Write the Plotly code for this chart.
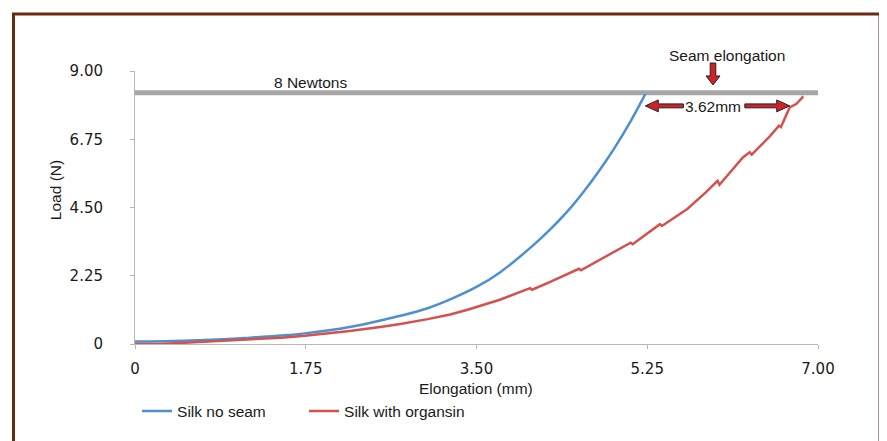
import plotly.graph_objects as go

# ---- data ----
blue_name = "Silk no seam"
blue_x = [0, 0.5, 1.0, 1.18, 1.5, 1.74, 2.2, 2.55, 2.72, 3.0, 3.23, 3.5, 3.74, 4.08, 4.25,
          4.42, 4.6, 4.77, 4.92, 5.07, 5.23]
blue_y = [0.08, 0.11, 0.17, 0.21, 0.28, 0.35, 0.56, 0.80, 0.93, 1.18, 1.47, 1.88, 2.36, 3.25, 3.76,
          4.33, 5.03, 5.77, 6.49, 7.29, 8.24]

red_name = "Silk with organsin"
red_x = [0, 0.25, 0.5, 1.0, 1.5, 1.74, 2.2, 2.55, 2.72, 3.0, 3.23, 3.40, 3.74, 4.05, 4.07, 4.25, 4.55,
         4.57, 4.77, 5.0, 5.08, 5.10, 5.28, 5.38, 5.40, 5.66, 5.85, 5.97, 5.99, 6.23, 6.30, 6.32,
         6.51, 6.60, 6.62, 6.71, 6.78, 6.82, 6.85]
red_y = [0, 0.0, 0.04, 0.12, 0.21, 0.27, 0.43, 0.58, 0.66, 0.82, 0.97, 1.12, 1.46, 1.84, 1.79, 2.04, 2.48,
         2.43, 2.78, 3.18, 3.34, 3.29, 3.72, 3.95, 3.89, 4.45, 5.00, 5.38, 5.25, 6.15, 6.32, 6.24,
         6.86, 7.20, 7.15, 7.80, 7.92, 8.06, 8.16]

limit_x = [0, 7.0]
limit_y = [8.28, 8.28]
limit_label = "8 Newtons"

x_ticks = [0, 1.75, 3.5, 5.25, 7.0]
x_tick_text = ["0", "1.75", "3.50", "5.25", "7.00"]
y_ticks = [0, 2.25, 4.5, 6.75, 9.0]
y_tick_text = ["0", "2.25", "4.50", "6.75", "9.00"]

seam_left = 5.23
seam_right = 6.71
seam_label = "3.62mm"
seam_title = "Seam elongation"

# ---- layout constants (page has an 8px body margin) ----
OFF = 8
W, H = 887 - OFF, 441 - OFF
ML, MT = 135 - OFF, 71 - OFF
PW, PH = 683, 275
MR, MB = W - ML - PW, H - MT - PH
XMAX, YMAX = 7.0, 9.0
px = 1.0 / PW
py = 1.0 / PH


def pgx(p):  # page pixel -> paper x
    return (p - OFF - ML) / PW


def pgy(p):  # page pixel -> paper y
    return (OFF + MT + PH - p) / PH


TXT = "Liberation Sans, Arial, sans-serif"
NUM = "DejaVu Sans, Verdana, sans-serif"

fig = go.Figure()
fig.add_trace(go.Scatter(x=limit_x, y=limit_y, mode="lines", showlegend=False,
                         line=dict(color="#a6a6a6", width=5), hoverinfo="skip"))
fig.add_trace(go.Scatter(x=blue_x, y=blue_y, mode="lines", name=blue_name,
                         line=dict(color="#4e8fd1", width=2.5, shape="spline", smoothing=1.0)))
fig.add_trace(go.Scatter(x=red_x, y=red_y, mode="lines", name=red_name,
                         line=dict(color="#d4514d", width=2.5)))


def poly(points):
    return "M " + " L ".join(f"{a:.5f},{b:.5f}" for a, b in points) + " Z"


def harrow(tip_x, tail_x, yv, direction):
    tx, ux, y0 = tip_x / XMAX, tail_x / XMAX, yv / YMAX
    hl, hw, sw = 13 * px, 6 * py, 2.0 * py
    d = direction
    base = tx - d * hl
    pts = [(tx, y0), (base, y0 + hw), (base, y0 + sw), (ux, y0 + sw),
           (ux, y0 - sw), (base, y0 - sw), (base, y0 - hw)]
    return poly(pts)


def varrow(x0, ty, uy):
    hl, hw, sw = 9 * py, 7 * px, 2.8 * px
    base = ty + hl
    pts = [(x0, ty), (x0 + hw, base), (x0 + sw, base), (x0 + sw, uy),
           (x0 - sw, uy), (x0 - sw, base), (x0 - hw, base)]
    return poly(pts)


arrow_style = dict(type="path", xref="paper", yref="paper", fillcolor="#d0202a",
                   line=dict(color="#222222", width=1), layer="above")
seam_y = 7.85
seam_mid = (seam_left + seam_right) / 2
fig.add_shape(path=harrow(seam_left, seam_mid - 0.35, seam_y, -1), **arrow_style)
fig.add_shape(path=harrow(seam_right, seam_mid + 0.28, seam_y, 1), **arrow_style)
fig.add_shape(path=varrow(pgx(713), pgy(85), pgy(63)), **arrow_style)

# border frame
fig.add_shape(type="rect", xref="paper", yref="paper",
              x0=pgx(13.5), x1=pgx(880), y0=pgy(470), y1=pgy(13.5),
              line=dict(color="#6a2a12", width=3), layer="below")

ann = [
    dict(x=pgx(310), y=pgy(83), text=limit_label),
    dict(x=pgx(727), y=pgy(55), text=seam_title),
    dict(x=pgx(713), y=pgy(106.5), text=seam_label),
    dict(x=pgx(476), y=pgy(391), text="Elongation (mm)"),
    dict(x=pgx(55), y=pgy(191), text="Load (N)", textangle=-90),
]
for a in ann:
    fig.add_annotation(showarrow=False, xref="paper", yref="paper",
                       font=dict(family=TXT, size=15.5, color="#1a1a1a"),
                       xanchor="center", yanchor="middle", **a)

axis_common = dict(showgrid=False, zeroline=False, showline=True, linecolor="#b8b8b8",
                   linewidth=1, ticks="outside", ticklen=4, tickcolor="#b8b8b8",
                   tickfont=dict(family=NUM, size=15, color="#1a1a1a"))
fig.update_xaxes(range=[0, XMAX], tickvals=x_ticks, ticktext=x_tick_text,
                 ticklabelstandoff=7, **axis_common)
fig.update_yaxes(range=[0, YMAX], tickvals=y_ticks, ticktext=y_tick_text,
                 ticklabelstandoff=24, **axis_common)

fig.update_layout(
    width=W, height=H,
    margin=dict(l=ML, r=MR, t=MT, b=MB),
    paper_bgcolor="white", plot_bgcolor="white",
    legend=dict(orientation="h", x=0.003, y=pgy(414), xanchor="left", yanchor="middle",
                font=dict(family=TXT, size=15.5, color="#1a1a1a"),
                entrywidth=122, entrywidthmode="pixels", bgcolor="rgba(0,0,0,0)"),
    showlegend=True,
)

fig.write_html("out.html")
